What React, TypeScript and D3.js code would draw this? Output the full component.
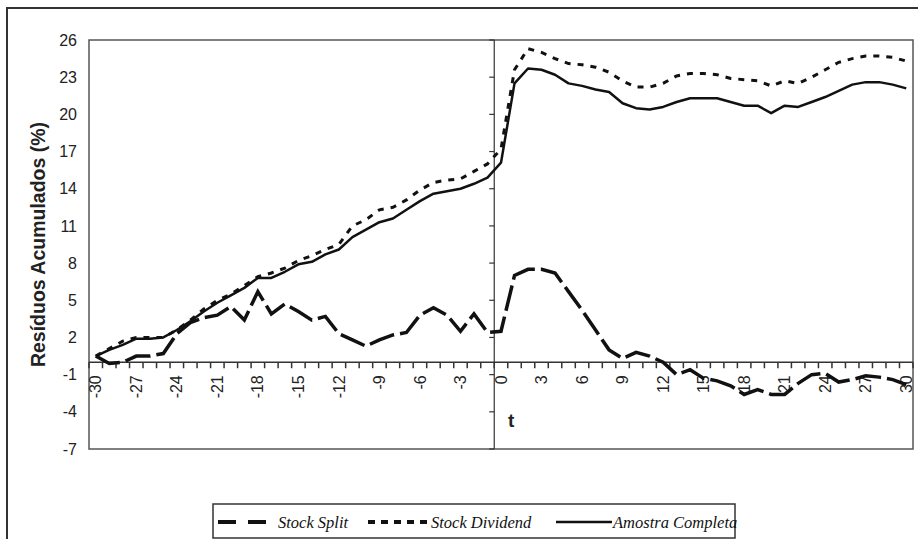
import React, { useRef, useEffect } from "react";
import * as d3 from "d3";

const periods = d3.range(-30, 31);

const stockSplit = [
  0.5, -0.1, 0.0, 0.5, 0.5, 0.7, 2.3, 3.2, 3.6, 3.8, 4.5, 3.4, 5.7, 3.9, 4.7,
  4.1, 3.4, 3.7, 2.3, 1.8, 1.3, 1.8, 2.2, 2.4, 3.8, 4.4, 3.8, 2.5, 3.9, 2.4,
  2.5, 7.0, 7.5, 7.5, 7.2, 5.7, 4.2, 2.6, 1.0, 0.3, 0.8, 0.5, 0.0, -1.0, -0.6,
  -1.3, -1.5, -1.9, -2.6, -2.2, -2.6, -2.6, -1.7, -1.0, -0.9, -1.6, -1.4, -1.1,
  -1.2, -1.4, -1.8,
];

const stockDividend = [
  0.5, 1.1, 1.7, 2.0, 2.0, 2.0, 2.6, 3.4, 4.3, 5.0, 5.5, 6.2, 6.9, 7.2, 7.6,
  8.2, 8.6, 9.1, 9.5, 11.0, 11.5, 12.3, 12.5, 13.1, 13.9, 14.5, 14.7, 14.8,
  15.4, 16.0, 17.2, 23.6, 25.3, 25.0, 24.5, 24.1, 24.0, 23.8, 23.4, 22.7, 22.2,
  22.2, 22.5, 23.1, 23.3, 23.3, 23.2, 22.9, 22.8, 22.7, 22.3, 22.7, 22.5, 23.0,
  23.6, 24.2, 24.5, 24.7, 24.7, 24.6, 24.3,
];

const amostraCompleta = [
  0.5, 1.0, 1.4, 1.9, 1.9, 2.0, 2.6, 3.3, 4.1, 4.8, 5.4, 6.0, 6.8, 6.8, 7.3,
  7.9, 8.1, 8.7, 9.1, 10.1, 10.7, 11.3, 11.6, 12.3, 13.0, 13.6, 13.8, 14.0,
  14.4, 14.9, 16.1, 22.5, 23.7, 23.6, 23.2, 22.5, 22.3, 22.0, 21.8, 20.9, 20.5,
  20.4, 20.6, 21.0, 21.3, 21.3, 21.3, 21.0, 20.7, 20.7, 20.1, 20.7, 20.6, 21.0,
  21.4, 21.9, 22.4, 22.6, 22.6, 22.4, 22.1,
];

const yTicks = d3.range(-7, 27, 3);
const xLabels = d3.range(-30, 31, 3);

const seriesNames = ["Stock Split", "Stock Dividend", "Amostra Completa"];

export default function App() {
  const svgRef = useRef<SVGSVGElement>(null);

  useEffect(() => {
    if (!svgRef.current) return;
    const svg = d3.select(svgRef.current);
    svg.selectAll("*").remove();

    const width = 918;
    const height = 539;
    const plot = { left: 89, top: 40, right: 913, bottom: 449 };

    svg.attr("width", width).attr("height", height);

    const xScale = d3
      .scaleBand<number>()
      .domain(periods)
      .range([plot.left, plot.right])
      .padding(0);
    const bw = xScale.bandwidth();
    const cx = (t: number) => (xScale(t) ?? 0) + bw / 2;

    const yScale = d3
      .scaleLinear()
      .domain([-7, 26])
      .range([plot.bottom, plot.top]);

    // outer frame
    svg
      .append("rect")
      .attr("x", 7)
      .attr("y", 8)
      .attr("width", width)
      .attr("height", height)
      .attr("fill", "white")
      .attr("stroke", "#333")
      .attr("stroke-width", 2);

    // plot area border
    svg
      .append("rect")
      .attr("x", plot.left)
      .attr("y", plot.top)
      .attr("width", plot.right - plot.left)
      .attr("height", plot.bottom - plot.top)
      .attr("fill", "white")
      .attr("stroke", "#555")
      .attr("stroke-width", 1.5);

    const font = "'Liberation Sans', Arial, sans-serif";

    // value axis crosses at period 0 (left edge of its category)
    const axisX = xScale(0) ?? 0;
    svg
      .append("line")
      .attr("x1", axisX)
      .attr("x2", axisX)
      .attr("y1", plot.top)
      .attr("y2", plot.bottom)
      .attr("stroke", "#333")
      .attr("stroke-width", 1.2);

    svg
      .selectAll(".ytick")
      .data(yTicks)
      .enter()
      .append("line")
      .attr("x1", axisX - 5)
      .attr("x2", axisX)
      .attr("y1", (d) => yScale(d))
      .attr("y2", (d) => yScale(d))
      .attr("stroke", "#333")
      .attr("stroke-width", 1.2);

    svg
      .selectAll(".ylabel")
      .data(yTicks)
      .enter()
      .append("text")
      .attr("x", 77)
      .attr("y", (d) => yScale(d))
      .attr("dy", "0.35em")
      .attr("text-anchor", "end")
      .style("font-family", font)
      .style("font-size", "16px")
      .attr("fill", "#222")
      .text((d) => d);

    // category axis at y = 0
    const axisY = yScale(0);
    svg
      .append("line")
      .attr("x1", plot.left)
      .attr("x2", plot.right)
      .attr("y1", axisY)
      .attr("y2", axisY)
      .attr("stroke", "#333")
      .attr("stroke-width", 1.5);

    const boundaries = periods.map((t) => xScale(t) ?? 0).concat([plot.right]);
    svg
      .selectAll(".xtick")
      .data(boundaries)
      .enter()
      .append("line")
      .attr("x1", (d) => d)
      .attr("x2", (d) => d)
      .attr("y1", axisY)
      .attr("y2", axisY + 6)
      .attr("stroke", "#333")
      .attr("stroke-width", 1.5);

    svg
      .selectAll(".xlabel")
      .data(xLabels)
      .enter()
      .append("text")
      .attr("transform", (d) => `translate(${cx(d)},${axisY + 13}) rotate(-90)`)
      .attr("dy", "0.35em")
      .attr("text-anchor", "end")
      .style("font-family", font)
      .style("font-size", "16px")
      .attr("fill", "#222")
      .text((d) => d);

    // axis titles
    svg
      .append("text")
      .attr("transform", `translate(38,${(plot.top + plot.bottom) / 2}) rotate(-90)`)
      .attr("dy", "0.35em")
      .attr("text-anchor", "middle")
      .style("font-family", font)
      .style("font-size", "19.5px")
      .style("font-weight", "bold")
      .attr("fill", "#222")
      .text("Resíduos Acumulados (%)");

    svg
      .append("text")
      .attr("x", 508)
      .attr("y", 427)
      .style("font-family", font)
      .style("font-size", "19px")
      .style("font-weight", "bold")
      .attr("fill", "#222")
      .text("t");

    // series
    const line = d3
      .line<number>()
      .x((_, i) => cx(periods[i]))
      .y((d) => yScale(d));

    svg
      .append("path")
      .datum(amostraCompleta)
      .attr("fill", "none")
      .attr("stroke", "#111")
      .attr("stroke-width", 2.5)
      .attr("stroke-linejoin", "round")
      .attr("d", line);

    svg
      .append("path")
      .datum(stockDividend)
      .attr("fill", "none")
      .attr("stroke", "#111")
      .attr("stroke-width", 3)
      .attr("stroke-dasharray", "6,7")
      .attr("d", line);

    svg
      .append("path")
      .datum(stockSplit)
      .attr("fill", "none")
      .attr("stroke", "#111")
      .attr("stroke-width", 3.5)
      .attr("stroke-dasharray", "26,6")
      .attr("d", line);

    // legend
    const legend = svg.append("g");
    legend
      .append("rect")
      .attr("x", 213)
      .attr("y", 504)
      .attr("width", 522)
      .attr("height", 34)
      .attr("fill", "white")
      .attr("stroke", "#333")
      .attr("stroke-width", 1.5);

    const legendItems = [
      { name: seriesNames[0], x1: 218, x2: 268, tx: 278, dash: "18,12", w: 4 },
      { name: seriesNames[1], x1: 368, x2: 430, tx: 431, dash: "7,6", w: 4 },
      { name: seriesNames[2], x1: 556, x2: 612, tx: 613, dash: "none", w: 2.5 },
    ];
    const ly = 522;
    legendItems.forEach((d) => {
      legend
        .append("line")
        .attr("x1", d.x1)
        .attr("x2", d.x2)
        .attr("y1", ly)
        .attr("y2", ly)
        .attr("stroke", "#111")
        .attr("stroke-width", d.w)
        .attr("stroke-dasharray", d.dash);
      legend
        .append("text")
        .attr("x", d.tx)
        .attr("y", ly)
        .attr("dy", "0.35em")
        .style("font-family", "'Liberation Serif', 'Times New Roman', serif")
        .style("font-style", "italic")
        .style("font-size", "16.5px")
        .attr("fill", "#111")
        .text(d.name);
    });
  }, []);

  return (
    <svg
      ref={svgRef}
      style={{ position: "absolute", left: 0, top: 0, display: "block" }}
    ></svg>
  );
}
